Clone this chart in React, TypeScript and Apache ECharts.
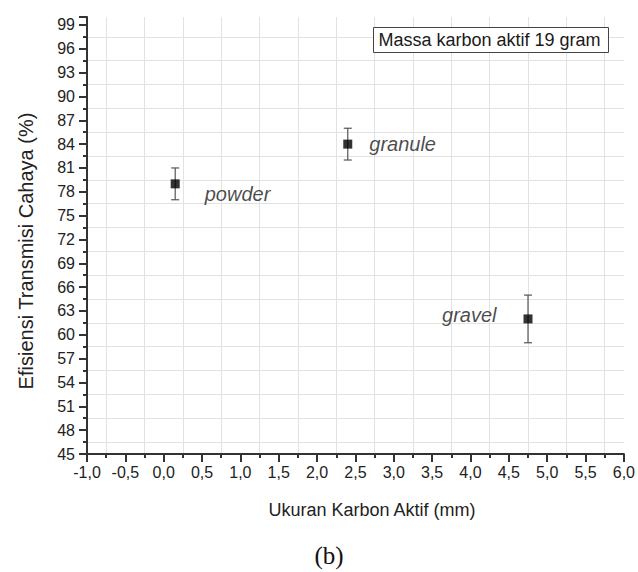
import React, { useEffect, useRef } from "react";
import * as echarts from "echarts";

// ---- data ----
const sampleNames = ["powder", "granule", "gravel"];
const sizeMm = [0.15, 2.4, 4.75];
const efficiency = [79, 84, 62];
const errLow = [77, 82, 59];
const errHigh = [81, 86, 65];
const legendText = "Massa karbon aktif 19 gram";
const xTitle = "Ukuran Karbon Aktif (mm)";
const yTitle = "Efisiensi Transmisi Cahaya (%)";
const caption = "(b)";

const X_MIN = -1;
const X_MAX = 6;
const X_STEP = 0.5;
const Y_MIN = 45;
const Y_MAX = 100;
const Y_STEP = 3;

// label placement (styles, not data)
const labelPlacement: Record<string, any> = {
  powder: { position: "right", offset: [25, 10] },
  granule: { position: "right", offset: [17, 0] },
  gravel: { position: "left", offset: [-27, -4] },
};

const FONT = "Liberation Sans, Arial, sans-serif";

export default function App() {
  const ref = useRef<HTMLDivElement>(null);
  useEffect(() => {
    if (!ref.current) return;
    const chart = echarts.init(ref.current, null, { renderer: "svg" });

    const pointData = sampleNames.map((name, i) => ({
      name,
      value: [sizeMm[i], efficiency[i]],
      label: {
        show: true,
        formatter: name,
        position: labelPlacement[name].position,
        offset: labelPlacement[name].offset,
        distance: 0,
        fontStyle: "italic",
        fontSize: 20,
        fontFamily: FONT,
        color: "#1a1a1a",
      },
    }));

    const errData = sampleNames.map((_, i) => [sizeMm[i], errLow[i], errHigh[i]]);

    const axisCommon = {
      axisLine: { show: true, onZero: false, lineStyle: { color: "#333", width: 2 } },
      axisTick: { show: true, inside: false, length: 8, lineStyle: { color: "#333", width: 2 } },
      minorTick: { show: true, splitNumber: 2, length: 4, lineStyle: { color: "#333", width: 2 } },
      splitLine: { show: false },
      minorSplitLine: { show: true, lineStyle: { color: "#e2e2e2", width: 1 } },
    };

    chart.setOption({
      animation: false,
      backgroundColor: "#fff",
      grid: { left: 87, right: 12, top: 17, bottom: 118, containLabel: false },
      xAxis: {
        type: "value",
        min: X_MIN,
        max: X_MAX,
        interval: X_STEP,
        ...axisCommon,
        axisLabel: {
          margin: 10,
          fontSize: 16,
          fontFamily: FONT,
          color: "#222",
          formatter: (v: number) => v.toFixed(1).replace(".", ","),
        },
      },
      yAxis: {
        type: "value",
        min: Y_MIN,
        max: Y_MAX,
        interval: Y_STEP,
        ...axisCommon,
        axisLabel: {
          margin: 12,
          fontSize: 16,
          fontFamily: FONT,
          color: "#222",
          showMaxLabel: false,
          formatter: (v: number) => (v === Y_MAX ? "" : String(v)),
        },
      },
      series: [
        {
          type: "custom",
          name: "error",
          z: 2,
          data: errData,
          renderItem: (params: any, api: any) => {
            const x = api.value(0);
            const top = api.coord([x, api.value(2)]);
            const bot = api.coord([x, api.value(1)]);
            const cap = 4;
            const style = { stroke: "#555", lineWidth: 1.2 };
            return {
              type: "group",
              children: [
                { type: "line", shape: { x1: top[0], y1: top[1], x2: bot[0], y2: bot[1] }, style },
                { type: "line", shape: { x1: top[0] - cap, y1: top[1], x2: top[0] + cap, y2: top[1] }, style },
                { type: "line", shape: { x1: bot[0] - cap, y1: bot[1], x2: bot[0] + cap, y2: bot[1] }, style },
              ],
            };
          },
        },
        {
          type: "scatter",
          name: "Efisiensi",
          z: 3,
          symbol: "rect",
          symbolSize: 9,
          itemStyle: { color: "#000" },
          data: pointData,
        },
      ],
      graphic: [
        {
          type: "group",
          left: 373,
          top: 27,
          z: 100,
          children: [
            {
              type: "rect",
              z: 100,
              shape: { x: 0, y: 0, width: 235, height: 25 },
              style: { fill: "#fff", stroke: "#444", lineWidth: 1 },
            },
            {
              type: "text",
              z: 101,
              x: 5,
              y: 12.5,
              style: {
                text: legendText,
                fontSize: 18,
                fontFamily: FONT,
                fill: "#1a1a1a",
                verticalAlign: "middle",
                align: "left",
              },
            },
          ],
        },
        {
          type: "text",
          x: 372,
          y: 510,
          style: {
            text: xTitle,
            fontSize: 18,
            fontFamily: FONT,
            fill: "#222",
            align: "center",
            verticalAlign: "middle",
          },
        },
        {
          type: "text",
          x: 26,
          y: 251,
          rotation: Math.PI / 2,
          style: {
            text: yTitle,
            fontSize: 20,
            fontFamily: FONT,
            fill: "#222",
            align: "center",
            verticalAlign: "middle",
          },
        },
        {
          type: "text",
          x: 329,
          y: 555,
          style: {
            text: caption,
            fontSize: 25,
            fontFamily: "Liberation Serif, Times New Roman, serif",
            fill: "#111",
            align: "center",
            verticalAlign: "middle",
          },
        },
      ],
    });

    return () => chart.dispose();
  }, []);

  return (
    <div
      ref={ref}
      style={{ position: "fixed", left: 0, top: 0, width: 638, height: 572, background: "#fff" }}
    />
  );
}
